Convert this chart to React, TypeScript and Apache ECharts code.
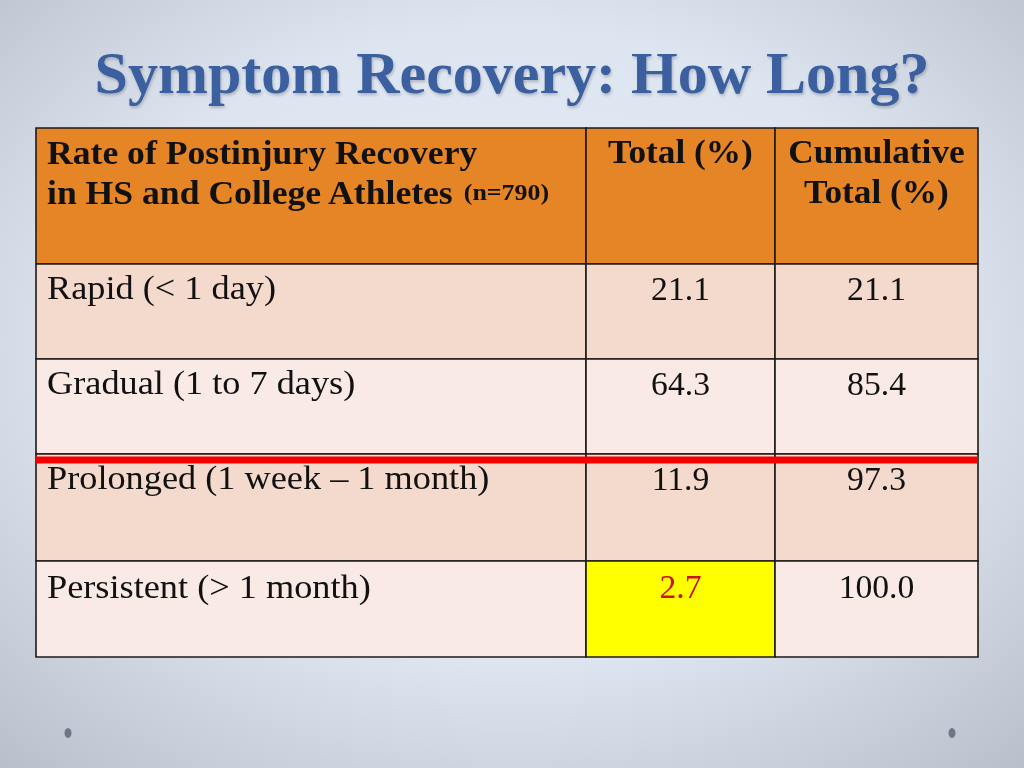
import React, { useEffect, useRef } from "react";
import * as echarts from "echarts";

const title = "Symptom Recovery: How Long?";
const headerMain = ["Rate of Postinjury Recovery", "in HS and College Athletes "];
const headerN = "(n=790)";
const headerTotal = "Total (%)";
const headerCumulative = ["Cumulative", "Total (%)"];
const categories = [
  "Rapid (< 1 day)",
  "Gradual (1 to 7 days)",
  "Prolonged (1 week – 1 month)",
  "Persistent (> 1 month)",
];
const totals = [21.1, 64.3, 11.9, 2.7];
const cumulative = [21.1, 85.4, 97.3, 100.0];
const highlightRow = 3; // Persistent, total column highlighted
const dividerAfterRow = 2; // red line above "Prolonged"

// layout (table units = px inside the grid)
const colEdges = [0, 550, 739, 942];
const rowEdges = [0, 136, 231, 326, 433, 529];
const FONT = "'Liberation Serif', 'Times New Roman', serif";

export default function App() {
  const ref = useRef<HTMLDivElement>(null);
  useEffect(() => {
    if (!ref.current) return;
    const chart = echarts.init(ref.current, null, { renderer: "svg" });

    type Cell = { value: [number, number]; kind: string; text?: string };
    const cells: Cell[] = [];
    cells.push({ value: [0, 0], kind: "headMain" });
    cells.push({ value: [1, 0], kind: "head", text: headerTotal });
    cells.push({ value: [2, 0], kind: "head", text: headerCumulative.join("\n") });
    categories.forEach((c, i) => {
      const r = i + 1;
      cells.push({ value: [0, r], kind: "label", text: c });
      cells.push({ value: [1, r], kind: r - 1 === highlightRow ? "hl" : "num", text: totals[i].toFixed(1) });
      cells.push({ value: [2, r], kind: "num", text: cumulative[i].toFixed(1) });
    });

    const rowFill = (r: number) => (r === 0 ? "#E58526" : r % 2 === 1 ? "#F4D9CD" : "#F9EAE6");

    const renderItem = (params: any, api: any) => {
      const col = api.value(0);
      const row = api.value(1);
      const cell = cells[params.dataIndex];
      const p0 = api.coord([colEdges[col], rowEdges[row]]);
      const p1 = api.coord([colEdges[col + 1], rowEdges[row + 1]]);
      const x = p0[0], y = p0[1], w = p1[0] - p0[0], h = p1[1] - p0[1];
      const fill = cell.kind === "hl" ? "#FFFF00" : rowFill(row);
      const textY = y + (row === 4 ? 26 : 24.5);
      const children: any[] = [
        {
          type: "rect",
          shape: { x, y, width: w, height: h },
          style: { fill, stroke: "#1E1A18", lineWidth: 1.6 },
        },
      ];
      if (cell.kind === "headMain") {
        children.push({
          type: "text",
          x: x + 11,
          y: y + 4,
          scaleX: 1.08,
          style: {
            x: 0,
            y: 0,
            text: `{b|${headerMain[0]}}\n{b|${headerMain[1]}}{s|${headerN}}`,
            rich: {
              b: { fontFamily: FONT, fontWeight: "bold", fontSize: 33, lineHeight: 40, fill: "#111" },
              s: { fontFamily: FONT, fontWeight: "bold", fontSize: 24, lineHeight: 40, fill: "#111" },
            },
            align: "left",
            verticalAlign: "top",
          },
        });
      } else if (cell.kind === "head") {
        children.push({
          type: "text",
          x: x + w / 2,
          y: y + 4,
          scaleX: 1.07,
          style: {
            x: 0,
            y: 0,
            text: cell.text,
            font: `bold 33px ${FONT}`,
            lineHeight: 40,
            fill: "#111",
            align: "center",
            verticalAlign: "top",
          },
        });
      } else if (cell.kind === "label") {
        children.push({
          type: "text",
          x: x + 11,
          y: textY,
          scaleX: 1.1,
          style: {
            x: 0,
            y: 0,
            text: cell.text,
            font: `33px ${FONT}`,
            fill: "#111",
            align: "left",
            verticalAlign: "middle",
          },
        });
      } else {
        children.push({
          type: "text",
          x: x + w / 2,
          y: textY,
          scaleX: 1.02,
          style: {
            x: 0,
            y: 0,
            text: cell.text,
            font: `33px ${FONT}`,
            fill: cell.kind === "hl" ? "#C8141B" : "#111",
            align: "center",
            verticalAlign: "middle",
          },
        });
      }
      return { type: "group", children };
    };

    const dividerRender = (params: any, api: any) => {
      const r = api.value(0);
      const p0 = api.coord([colEdges[0], rowEdges[r + 1]]);
      const p1 = api.coord([colEdges[colEdges.length - 1], rowEdges[r + 1]]);
      return {
        type: "rect",
        shape: { x: p0[0], y: p0[1] + 2.5, width: p1[0] - p0[0], height: 7 },
        style: { fill: "#F50000" },
      };
    };

    chart.setOption({
      animation: false,
      graphic: [
        {
          type: "rect",
          z: -10,
          shape: { x: 0, y: 0, width: 1024, height: 768 },
          style: {
            fill: {
              type: "radial",
              x: 0.5,
              y: 0.45,
              r: 0.75,
              colorStops: [
                { offset: 0, color: "#E5EDF8" },
                { offset: 0.55, color: "#DDE5F0" },
                { offset: 1, color: "#B9BFCA" },
              ],
            },
          },
        },
        { type: "ellipse", shape: { cx: 68, cy: 733, rx: 3.5, ry: 5 }, style: { fill: "#6F7786" } },
        { type: "ellipse", shape: { cx: 952, cy: 733, rx: 3.5, ry: 5 }, style: { fill: "#6F7786" } },
      ],
      title: {
        text: title,
        left: "center",
        top: 38,
        textStyle: {
          fontFamily: FONT,
          fontWeight: "bold",
          fontSize: 60,
          color: "#3A5E9F",
          textShadowColor: "rgba(0,0,0,0.22)",
          textShadowBlur: 3,
          textShadowOffsetX: 1,
          textShadowOffsetY: 2,
        },
      },
      grid: { left: 36, top: 128, width: 942, height: 529 },
      xAxis: { type: "value", min: 0, max: 942, show: false },
      yAxis: { type: "value", min: 0, max: 529, inverse: true, show: false },
      series: [
        {
          type: "custom",
          renderItem,
          data: cells,
          clip: false,
        },
        {
          type: "custom",
          renderItem: dividerRender,
          data: [[dividerAfterRow]],
          z: 5,
          clip: false,
        },
      ],
    });
    return () => chart.dispose();
  }, []);
  return (
    <div
      ref={ref}
      style={{ position: "fixed", left: 0, top: 0, width: 1024, height: 768 }}
    />
  );
}
